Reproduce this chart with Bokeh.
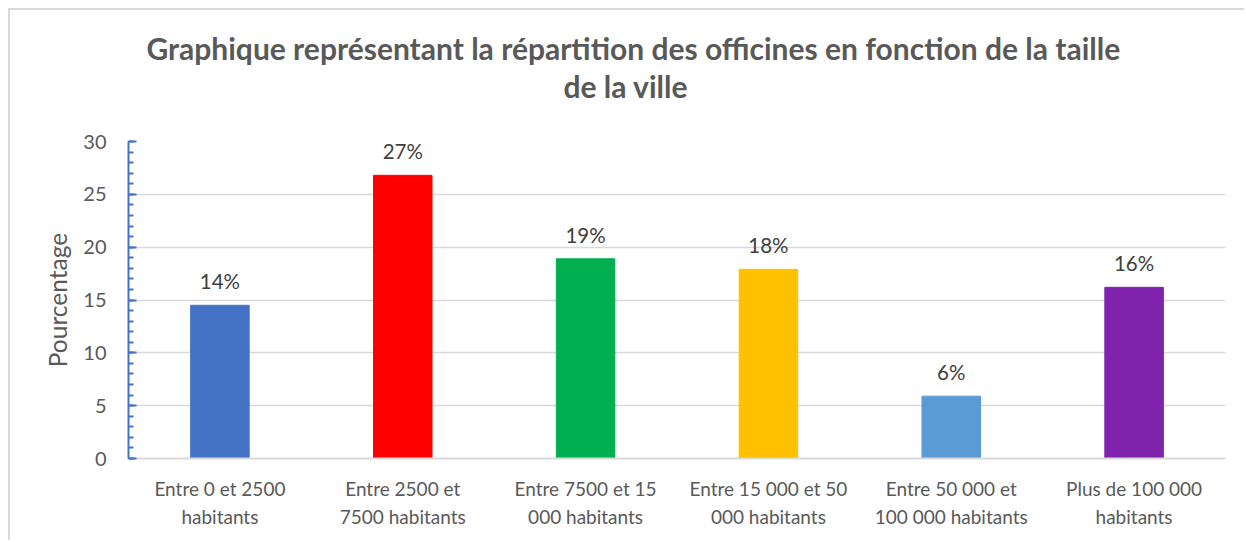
from bokeh.plotting import figure
from bokeh.models import ColumnDataSource, LabelSet, Title, SingleIntervalTicker, FactorRange, Range1d
from bokeh.embed import file_html
from bokeh.resources import INLINE
from bokeh.core.properties import value

categories = ["Entre 0 et 2500\nhabitants", "Entre 2500 et\n7500 habitants", "Entre 7500 et 15\n000 habitants",
              "Entre 15 000 et 50\n000 habitants", "Entre 50 000 et\n100 000 habitants", "Plus de 100 000\nhabitants"]
values = [14.5, 26.8, 18.9, 17.9, 5.9, 16.2]
labels = ["14%", "27%", "19%", "18%", "6%", "16%"]
colors = ["#4472C4", "#FF0000", "#00B050", "#FFC000", "#5B9BD5", "#7F22AC"]
title_line1 = "Graphique représentant  la répartition des officines en fonction de la taille"
title_line2 = "de la ville"

FONT = "Lato"
src = ColumnDataSource(dict(cat=categories, val=values, lab=labels, col=colors))

p = figure(width=1236, height=532, x_range=FactorRange(*categories, range_padding=0),
           y_range=Range1d(0, 30), output_backend="svg", toolbar_location=None,
           min_border_left=118, min_border_right=21, min_border_top=131, min_border_bottom=84)
p.styles = {"margin-left": "8px", "margin-top": "8px",
            "border-top": "2px solid #d9d9d9", "border-left": "2px solid #d9d9d9"}
p.outline_line_color = None

p.vbar(x="cat", top="val", width=0.32, color="col", source=src)

p.add_layout(LabelSet(x="cat", y="val", text="lab", source=src, text_align="center", text_baseline="bottom",
                      y_offset=12, text_font=value(FONT), text_font_size="20.5px", text_color="#404040"))

# y axis
yax = p.yaxis[0]
yax.ticker = SingleIntervalTicker(interval=5, num_minor_ticks=5)
yax.axis_line_color = "#4472C4"
yax.axis_line_width = 2
yax.major_tick_line_color = "#4472C4"
yax.minor_tick_line_color = "#4472C4"
yax.major_tick_line_width = 2
yax.minor_tick_line_width = 2
yax.major_tick_in = 8
yax.major_tick_out = 0
yax.minor_tick_in = 5
yax.minor_tick_out = 0
yax.major_label_standoff = 22
yax.major_label_text_font = FONT
yax.major_label_text_font_size = "20px"
yax.major_label_text_color = "#595959"
yax.axis_label = "Pourcentage"
yax.axis_label_text_font = FONT
yax.axis_label_text_font_size = "24.5px"
yax.axis_label_text_font_style = "normal"
yax.axis_label_text_color = "#595959"
yax.axis_label_standoff = 8

# x axis
xax = p.xaxis[0]
xax.axis_line_color = "#D9D9D9"
xax.axis_line_width = 2
xax.major_tick_line_color = None
xax.minor_tick_line_color = None
xax.major_label_standoff = 12
xax.major_label_text_font = FONT
xax.major_label_text_font_size = "19px"
xax.major_label_text_color = "#595959"
xax.major_label_text_line_height = 1.25

p.xgrid.grid_line_color = None
p.ygrid.grid_line_color = "#D9D9D9"
p.ygrid.grid_line_width = 1.5

# titles: nearest-to-frame first
p.add_layout(Title(text=" ", text_font_size="32px", standoff=0), "above")
p.add_layout(Title(text=title_line2, align="left", offset=435, text_font=FONT, text_font_style="bold",
                   text_font_size="30px", text_color="#595959", standoff=0), "above")
p.add_layout(Title(text=title_line1, align="left", offset=18, text_font=FONT, text_font_style="bold",
                   text_font_size="30px", text_color="#595959", standoff=0), "above")

open("out.html", "w").write(file_html(p, INLINE))
